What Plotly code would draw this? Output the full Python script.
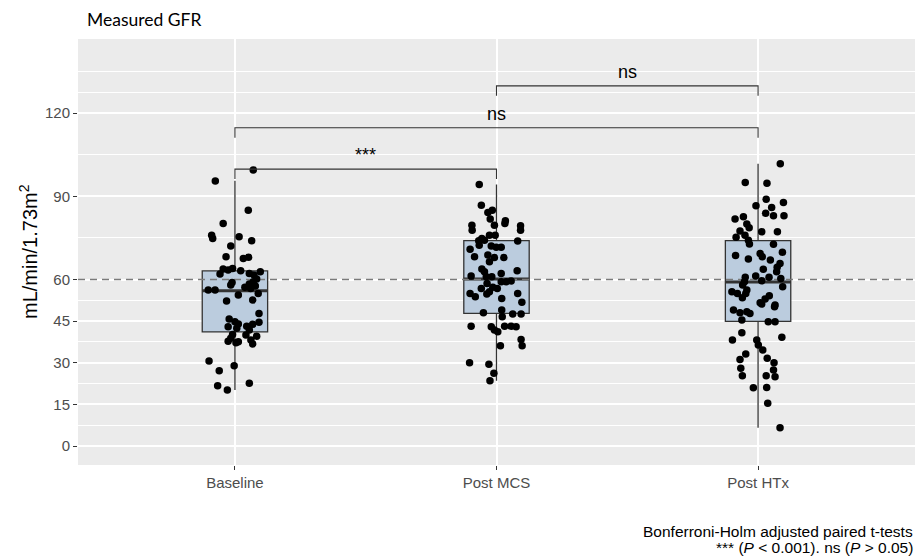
import plotly.graph_objects as go

# ---------------- data ----------------
categories = ["Baseline", "Post MCS", "Post HTx"]

baseline_vals = [99.5, 95.5, 85.0, 80.2, 76.0, 74.8, 75.4, 74.0, 72.1, 68.2, 67.6, 68.0,
                 63.8, 63.4, 64.0, 62.0, 63.2, 62.2, 61.6, 62.8, 58.9, 58.0, 58.4, 59.2,
                 60.2, 56.2, 56.2, 57.2, 56.8, 57.7, 55.0, 54.4, 52.6, 52.3, 47.8, 45.8,
                 44.8, 44.0, 44.6, 43.9, 43.0, 42.4, 43.2, 41.8, 40.2, 39.6, 40.0, 38.8,
                 37.8, 37.6, 37.2, 38.2, 36.8, 30.6, 28.9, 27.1, 21.7, 20.2, 22.6]
baseline_jitter = [0.070, -0.075, 0.051, -0.045, -0.089, -0.085, 0.016, 0.064, -0.016, -0.034,
                   0.032, 0.052, -0.045, -0.026, -0.009, -0.057, 0.022, 0.055, 0.073, 0.097,
                   -0.011, -0.016, 0.055, 0.070, 0.083, -0.102, -0.076, 0.038, 0.060, 0.078,
                   0.089, 0.013, 0.068, -0.032, 0.092, -0.022, 0.0, 0.013, 0.092, 0.068,
                   -0.026, 0.007, 0.045, 0.055, -0.009, 0.083, 0.042, -0.016, -0.026, 0.013,
                   0.004, 0.061, 0.068, -0.099, -0.003, -0.060, -0.066, -0.029, 0.055]

mcs_vals = [94.3, 86.8, 84.2, 85.0, 81.8, 79.6, 77.8, 79.6, 81.2, 80.2, 79.4, 77.8, 76.0,
            76.0, 74.8, 74.0, 74.2, 73.9, 72.1, 71.6, 71.6, 70.9, 72.4, 68.2, 68.8, 67.9,
            67.9, 66.4, 63.8, 62.8, 62.2, 63.2, 61.3, 61.0, 61.0, 59.2, 59.5, 59.2, 58.6,
            56.8, 57.2, 56.8, 55.6, 54.8, 55.0, 53.8, 55.0, 53.2, 51.8, 48.0, 49.0, 46.6,
            47.6, 47.6, 43.2, 43.0, 41.8, 41.2, 43.2, 43.2, 43.0, 38.4, 36.1, 36.1, 30.0,
            29.5, 26.2, 23.5]
mcs_jitter = [-0.066, -0.058, -0.033, -0.016, -0.024, -0.094, -0.093, -0.008, 0.034, 0.032,
              0.092, 0.092, -0.027, -0.005, -0.056, -0.068, -0.046, 0.081, -0.020, -0.001,
              0.018, -0.101, -0.066, -0.084, -0.033, -0.008, 0.028, -0.027, -0.056, -0.046,
              0.018, 0.079, -0.097, -0.039, -0.018, 0.037, 0.056, 0.018, -0.036, -0.058,
              -0.014, 0.003, -0.027, -0.037, -0.101, -0.081, 0.081, 0.020, 0.097, -0.050,
              0.020, 0.022, 0.062, 0.094, -0.097, -0.020, -0.008, 0.005, 0.031, 0.056,
              0.075, 0.094, 0.098, 0.015, -0.103, -0.029, -0.010, -0.025]

htx_vals = [101.7, 95.0, 94.7, 88.9, 87.8, 86.6, 86.0, 83.9, 83.0, 83.0, 81.8, 82.6, 80.0,
            78.7, 77.5, 77.2, 77.2, 76.0, 75.2, 74.2, 72.8, 72.7, 69.8, 68.7, 67.4, 69.4,
            68.2, 67.0, 65.8, 64.4, 63.7, 62.8, 61.3, 60.8, 59.6, 60.8, 60.4, 59.2, 58.0,
            57.4, 56.2, 55.6, 55.0, 55.0, 53.4, 54.2, 53.0, 51.2, 51.6, 50.8, 50.2, 49.0,
            48.0, 48.4, 47.8, 45.4, 44.8, 44.8, 40.8, 38.2, 39.2, 38.2, 36.4, 34.6, 33.2,
            31.2, 31.6, 30.0, 28.0, 27.4, 25.3, 25.3, 25.0, 21.0, 21.1, 15.4, 6.6]
htx_jitter = [0.085, -0.049, 0.034, 0.031, 0.097, -0.008, 0.052, 0.029, 0.059, 0.099,
              -0.088, -0.056, -0.043, -0.034, -0.069, 0.014, 0.074, -0.050, -0.084, -0.037,
              -0.033, 0.059, 0.093, -0.086, -0.037, 0.008, 0.016, 0.047, 0.084, 0.073,
              0.020, 0.071, -0.009, 0.042, 0.014, -0.049, 0.087, -0.052, -0.059, 0.094,
              -0.043, -0.100, -0.079, -0.047, -0.060, 0.043, 0.027, 0.014, 0.008, 0.065,
              0.063, -0.094, -0.069, -0.043, -0.031, -0.062, 0.039, 0.065, -0.062, -0.098,
              0.091, -0.005, 0.001, 0.018, -0.047, -0.069, 0.035, 0.061, -0.066, 0.059,
              -0.060, 0.031, 0.065, -0.018, 0.033, 0.037, 0.084]

box_q1 = [41.1, 47.8, 44.9]
box_median = [56.0, 60.2, 59.1]
box_q3 = [63.1, 74.0, 74.0]
box_lower = [20.2, 23.5, 6.6]
box_upper = [95.6, 94.3, 101.7]

reference_line = 60
y_tick_vals = [0, 15, 30, 45, 60, 90, 120]
y_minor_vals = [7.5, 22.5, 37.5, 52.5, 75, 105, 127.5, 135]

comparisons = [(0, 1), (0, 2), (1, 2)]
bracket_levels = [99.8, 114.7, 129.8]
bracket_labels = ["***", "ns", "ns"]

# ---------------- styling ----------------
BOX_W = 0.25
TICK_DROP = 3.6
DARK = "#333333"
FONT = "Liberation Sans, Arial, sans-serif"

fig = go.Figure()

x_idx = list(range(len(categories)))

fig.add_trace(go.Box(
    x=x_idx, q1=box_q1, median=box_median, q3=box_q3,
    lowerfence=box_lower, upperfence=box_upper,
    width=BOX_W, whiskerwidth=0, boxpoints=False,
    fillcolor="rgb(187,204,222)", line=dict(color=DARK, width=1.3),
    hoverinfo="skip", showlegend=False,
))

# thicker median lines (ggplot style)
for i, m in enumerate(box_median):
    fig.add_trace(go.Scatter(
        x=[i - BOX_W / 2, i + BOX_W / 2], y=[m, m], mode="lines",
        line=dict(color=DARK, width=3), hoverinfo="skip", showlegend=False,
    ))

# dashed reference line
fig.add_trace(go.Scatter(
    x=[-0.6, 2.6], y=[reference_line, reference_line], mode="lines",
    line=dict(color="#7a7a7a", width=1.6, dash="7px,5px"),
    hoverinfo="skip", showlegend=False,
))

# jittered points
for i, (vals, jit) in enumerate([(baseline_vals, baseline_jitter),
                                 (mcs_vals, mcs_jitter),
                                 (htx_vals, htx_jitter)]):
    fig.add_trace(go.Scatter(
        x=[i + j for j in jit], y=vals, mode="markers",
        marker=dict(color="black", size=7.5, line=dict(width=0)),
        showlegend=False, cliponaxis=False,
    ))

# significance brackets
for (a, b), lvl, lab in zip(comparisons, bracket_levels, bracket_labels):
    fig.add_trace(go.Scatter(
        x=[a, a, b, b], y=[lvl - TICK_DROP, lvl, lvl, lvl - TICK_DROP], mode="lines",
        line=dict(color=DARK, width=1.1), hoverinfo="skip", showlegend=False,
    ))
    fig.add_annotation(
        x=(a + b) / 2, y=lvl, text=lab, showarrow=False,
        xanchor="center", yanchor="bottom", yshift=2,
        font=dict(family=FONT, size=18, color="black"),
    )

# y axis title
fig.add_annotation(
    xref="paper", yref="paper", x=-0.0597, y=0.5,
    text="mL/min/1.73m<sup>2</sup>", textangle=-90, showarrow=False,
    xanchor="center", yanchor="middle",
    font=dict(family=FONT, size=20, color="black"),
)

# caption
fig.add_annotation(
    xref="paper", yref="paper", x=1.0, y=-0.155,
    text="Bonferroni-Holm adjusted paired t-tests", showarrow=False,
    xanchor="right", yanchor="middle",
    font=dict(family=FONT, size=15.5, color="black"),
)
fig.add_annotation(
    xref="paper", yref="paper", x=1.0, y=-0.193,
    text="*** (<i>P</i> < 0.001). ns (<i>P</i> > 0.05)", showarrow=False,
    xanchor="right", yanchor="middle",
    font=dict(family=FONT, size=15.5, color="black"),
)

fig.update_layout(
    width=917, height=557, autosize=False,
    margin=dict(l=78, r=2, t=39, b=92, autoexpand=False),
    paper_bgcolor="white", plot_bgcolor="#ebebeb",
    title=dict(text="Measured GFR", xref="container", yref="container",
               x=87 / 917, xanchor="left", y=1 - 20 / 557, yanchor="middle",
               font=dict(family="Lato, sans-serif", size=17.5, color="black")),
    xaxis=dict(
        range=[-0.6, 2.6], tickmode="array", tickvals=x_idx, ticktext=categories,
        showgrid=True, gridcolor="white", gridwidth=1.6, zeroline=False, showline=False,
        ticks="outside", ticklen=4, tickcolor=DARK, tickwidth=1,
        tickfont=dict(family=FONT, size=15, color="#4d4d4d"),
    ),
    yaxis=dict(
        range=[-6.85, 146.7], tickmode="array", tickvals=y_tick_vals,
        showgrid=True, gridcolor="white", gridwidth=1.6, zeroline=False, showline=False,
        ticks="outside", ticklen=4, tickcolor=DARK, tickwidth=1,
        tickfont=dict(family=FONT, size=15, color="#4d4d4d"),
        minor=dict(tickmode="array", tickvals=y_minor_vals, showgrid=True,
                   gridcolor="white", gridwidth=0.8, ticks=""),
    ),
)

fig.write_html("out.html",
               config={"displayModeBar": False},
               post_script="document.body.style.margin='0px';document.body.style.overflow='hidden';")
